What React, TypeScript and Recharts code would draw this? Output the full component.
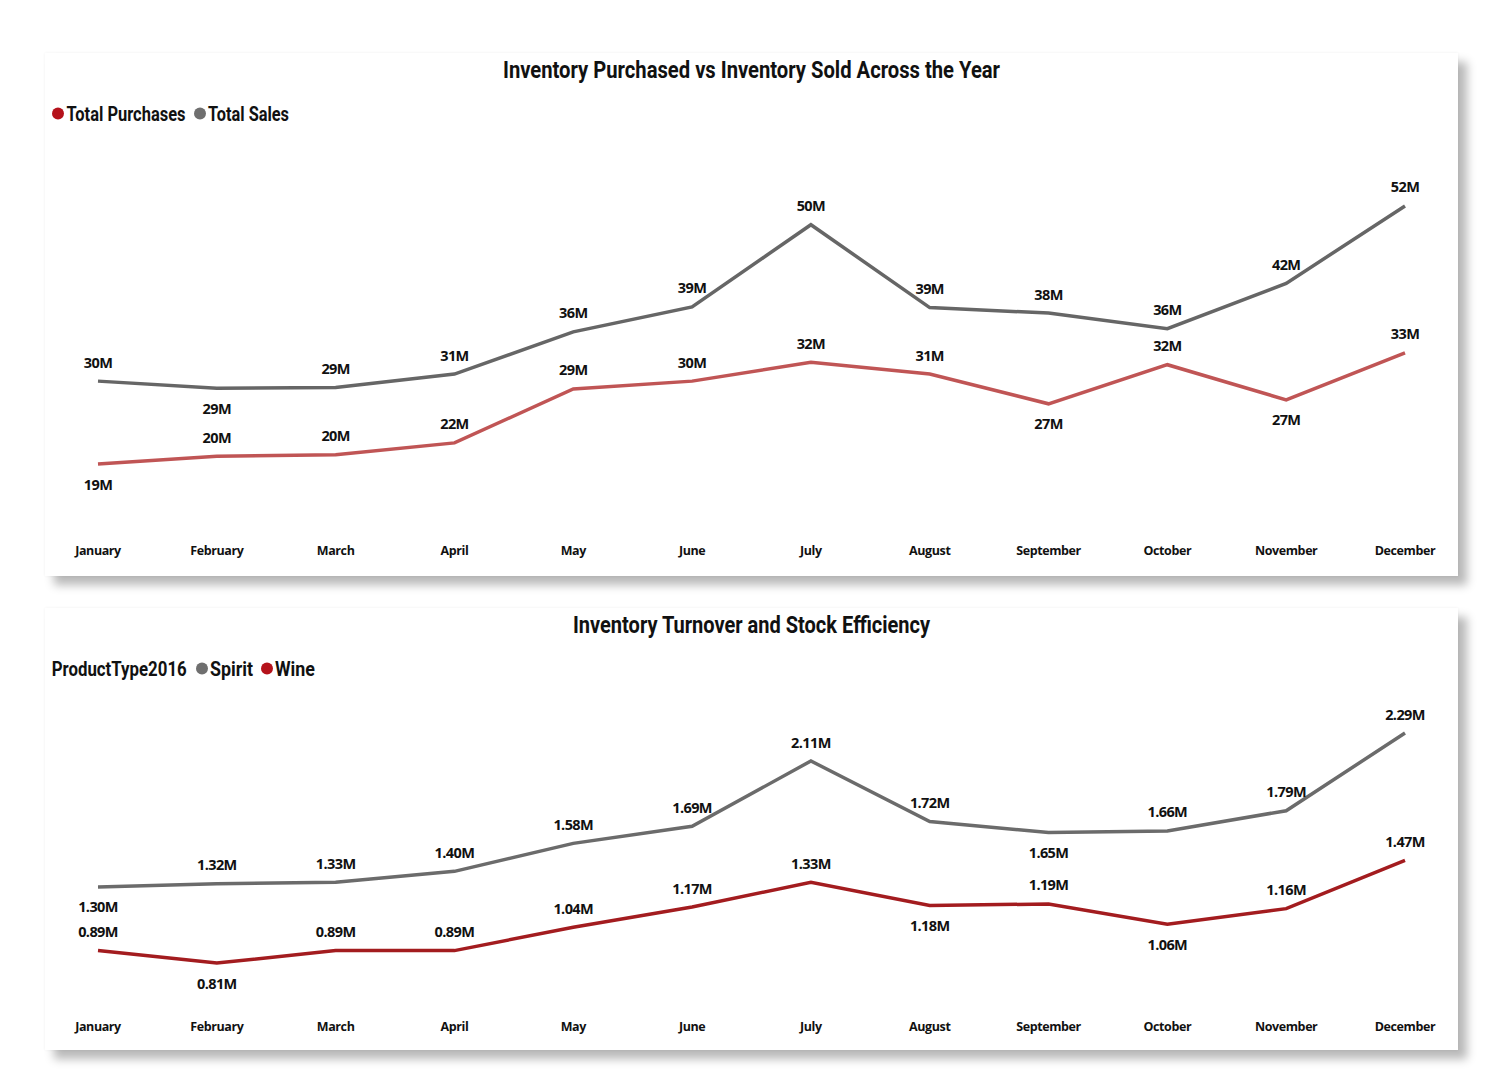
import React from 'react';
import { LineChart, Line, XAxis, YAxis } from 'recharts';

const months = ['January', 'February', 'March', 'April', 'May', 'June', 'July', 'August', 'September', 'October', 'November', 'December'];
const totalSales = [29.6, 28.7, 28.8, 30.5, 35.9, 39.1, 49.6, 39.0, 38.3, 36.3, 42.1, 52.0];
const totalPurchases = [19.0, 20.0, 20.2, 21.7, 28.6, 29.6, 32.0, 30.5, 26.7, 31.7, 27.2, 33.2];
const spirit = [1.30, 1.32, 1.33, 1.40, 1.58, 1.69, 2.11, 1.72, 1.65, 1.66, 1.79, 2.29];
const wine = [0.89, 0.81, 0.89, 0.89, 1.04, 1.17, 1.33, 1.18, 1.19, 1.06, 1.16, 1.47];

const salesLabelSide = ['up', 'down', 'up', 'up', 'up', 'up', 'up', 'up', 'up', 'up', 'up', 'up'];
const purchasesLabelSide = ['down', 'up', 'up', 'up', 'up', 'up', 'up', 'up', 'down', 'up', 'down', 'up'];
const spiritLabelSide = ['down', 'up', 'up', 'up', 'up', 'up', 'up', 'up', 'down', 'up', 'up', 'up'];
const wineLabelSide = ['up', 'down', 'up', 'up', 'up', 'up', 'up', 'down', 'up', 'down', 'up', 'up'];

const topData = months.map((m, i) => ({ month: m, sales: totalSales[i], purchases: totalPurchases[i] }));
const bottomData = months.map((m, i) => ({ month: m, spirit: spirit[i], wine: wine[i] }));

const TITLE_FONT = 'Roboto, "DejaVu Sans", sans-serif';
const BODY_FONT = '"Open Sans", "Noto Sans", sans-serif';

const C_SALES = '#666666';
const C_PURCH = '#c05555';
const C_SPIRIT = '#6b6b6b';
const C_WINE = '#a31c1f';
const C_DOT_RED = '#b5121b';
const C_DOT_GRAY = '#6f6f6f';

function makeLabel(sides: string[], fmt: (v: number) => string) {
  return (props: any) => {
    const { x, y, value, index } = props;
    const dy = sides[index] === 'down' ? 20 : -19;
    return (
      <text
        key={`l-${index}`}
        x={x}
        y={y + dy}
        textAnchor="middle"
        dominantBaseline="central"
        fontFamily={BODY_FONT}
        fontWeight={700}
        fontSize={14.5}
        fill="#111"
        letterSpacing={-0.6}
      >
        {fmt(value)}
      </text>
    );
  };
}

const fmtM = (v: number) => `${Math.round(v)}M`;
const fmtM2 = (v: number) => `${v.toFixed(2)}M`;

const panelStyle: React.CSSProperties = {
  position: 'absolute',
  left: 45,
  width: 1413,
  background: '#fff',
  boxShadow: '9px 9px 9px rgba(0,0,0,0.28), 0 0 3px rgba(0,0,0,0.06)',
};

const FitText = ({ x, y, w, size, children }: { x: number; y: number; w: number; size: number; children: string }) => (
  <text
    x={x}
    y={y}
    textLength={w}
    lengthAdjust="spacingAndGlyphs"
    fontFamily={TITLE_FONT}
    fontWeight={700}
    fontSize={size}
    fill="#111"
  >
    {children}
  </text>
);

const tickStyle = { fontFamily: BODY_FONT, fontWeight: 700, fontSize: 12.5, fill: '#111', letterSpacing: -0.4 };

export default function App() {
  return (
    <div style={{ position: 'absolute', left: 0, top: 0, width: 1500, height: 1087, background: '#fff', overflow: 'hidden' }}>
      <div style={{ ...panelStyle, top: 53, height: 523 }}>
        <div style={{ position: 'absolute', left: 0, top: 0 }}>
          <LineChart width={1413} height={523} data={topData} margin={{ top: 129.5, right: 53, bottom: 11.6, left: 53 }}>
            <XAxis
              dataKey="month"
              scale="point"
              padding={{ left: 0, right: 0 }}
              axisLine={false}
              tickLine={false}
              tickSize={0}
              tickMargin={12}
              height={30}
              interval={0}
              tick={tickStyle}
            />
            <YAxis hide domain={[10, 55]} />
            <Line type="linear" dataKey="sales" stroke={C_SALES} strokeWidth={3.5} dot={false} isAnimationActive={false} label={makeLabel(salesLabelSide, fmtM)} />
            <Line type="linear" dataKey="purchases" stroke={C_PURCH} strokeWidth={3.5} dot={false} isAnimationActive={false} label={makeLabel(purchasesLabelSide, fmtM)} />
          </LineChart>
        </div>
        <svg width={1413} height={100} style={{ position: 'absolute', left: 0, top: 0, pointerEvents: 'none' }}>
          <FitText x={458} y={25} w={497} size={24}>Inventory Purchased vs Inventory Sold Across the Year</FitText>
          <circle cx={13} cy={60.5} r={6} fill={C_DOT_RED} />
          <FitText x={21.5} y={68} w={119} size={19.5}>Total Purchases</FitText>
          <circle cx={155} cy={60.5} r={6} fill={C_DOT_GRAY} />
          <FitText x={163} y={68} w={81} size={19.5}>Total Sales</FitText>
        </svg>
      </div>

      <div style={{ ...panelStyle, top: 608, height: 442 }}>
        <div style={{ position: 'absolute', left: 0, top: 0 }}>
          <LineChart width={1413} height={442} data={bottomData} margin={{ top: 92.4, right: 53, bottom: 8.8, left: 53 }}>
            <XAxis
              dataKey="month"
              scale="point"
              padding={{ left: 0, right: 0 }}
              axisLine={false}
              tickLine={false}
              tickSize={0}
              tickMargin={11}
              height={30}
              interval={0}
              tick={tickStyle}
            />
            <YAxis hide domain={[0.5, 2.5]} />
            <Line type="linear" dataKey="spirit" stroke={C_SPIRIT} strokeWidth={3.5} dot={false} isAnimationActive={false} label={makeLabel(spiritLabelSide, fmtM2)} />
            <Line type="linear" dataKey="wine" stroke={C_WINE} strokeWidth={3.5} dot={false} isAnimationActive={false} label={makeLabel(wineLabelSide, fmtM2)} />
          </LineChart>
        </div>
        <svg width={1413} height={100} style={{ position: 'absolute', left: 0, top: 0, pointerEvents: 'none' }}>
          <FitText x={528} y={25} w={357} size={24}>Inventory Turnover and Stock Efficiency</FitText>
          <FitText x={6.7} y={68} w={135} size={19.5}>ProductType2016</FitText>
          <circle cx={157} cy={60.5} r={6} fill={C_DOT_GRAY} />
          <FitText x={165} y={68} w={43} size={19.5}>Spirit</FitText>
          <circle cx={222} cy={60.5} r={6} fill={C_DOT_RED} />
          <FitText x={230} y={68} w={40} size={19.5}>Wine</FitText>
        </svg>
      </div>
    </div>
  );
}
